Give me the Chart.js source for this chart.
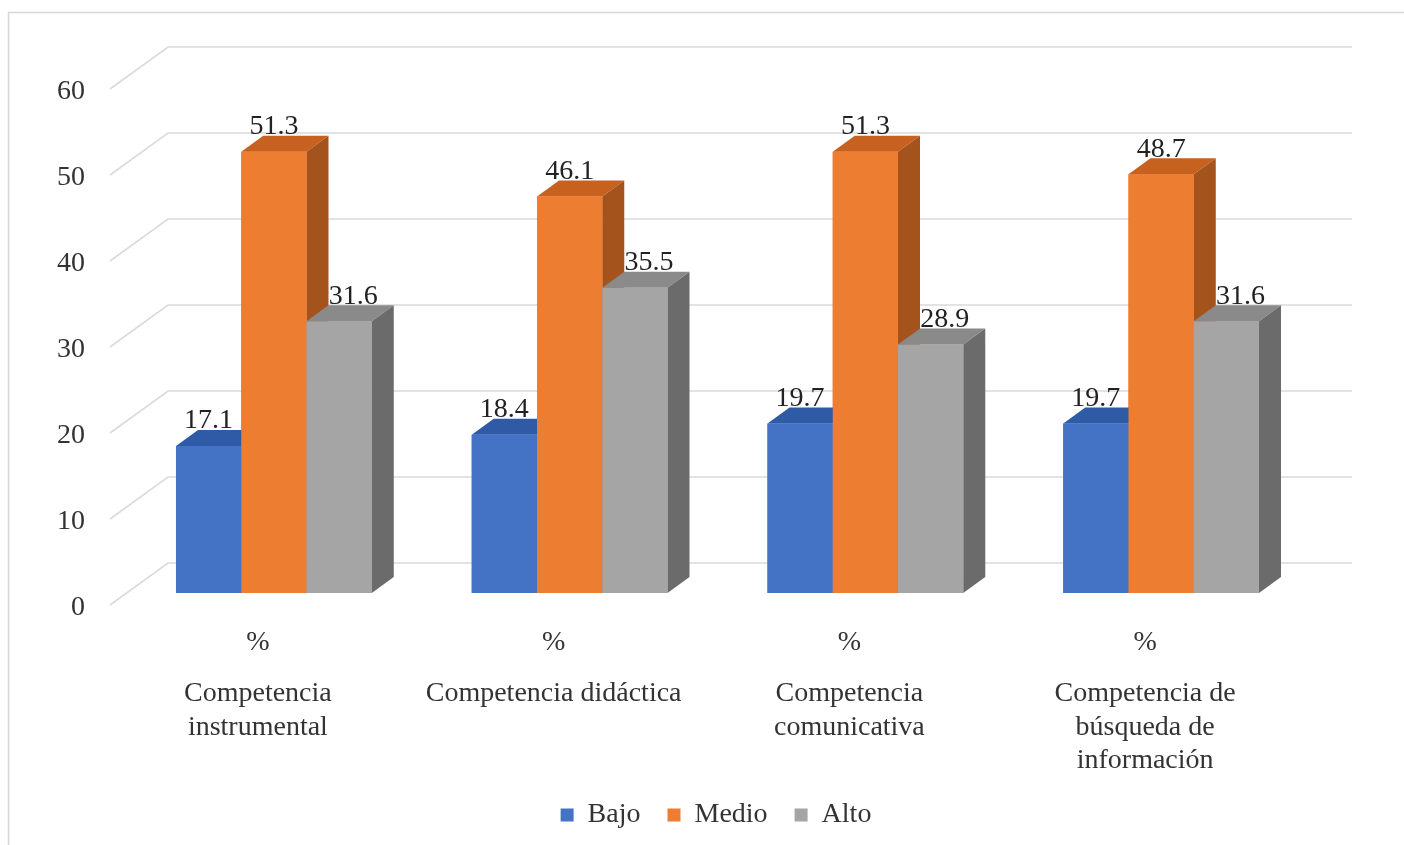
<!DOCTYPE html>
<html>
<head>
<meta charset="utf-8">
<script src="https://cdn.jsdelivr.net/npm/chart.js@4/dist/chart.umd.min.js"></script>
<style>
  html, body { margin: 0; padding: 0; background: #fff; }
  #wrap { width: 1404px; height: 845px; position: relative; }
</style>
</head>
<body>
<div id="wrap"><canvas id="competChart"></canvas></div>
<script>
const unitLabels = ['%', '%', '%', '%'];
const categoryLines = [
    ['Competencia', 'instrumental'],
    ['Competencia didáctica'],
    ['Competencia', 'comunicativa'],
    ['Competencia de', 'búsqueda de', 'información']
];
const seriesNames = ['Bajo', 'Medio', 'Alto'];
const bajoValues  = [17.1, 18.4, 19.7, 19.7];
const medioValues = [51.3, 46.1, 51.3, 48.7];
const altoValues  = [31.6, 35.5, 28.9, 31.6];

const FONT       = 'Liberation Serif';
const TEXT_COLOR = '#333333';
const GRID_COLOR = '#dadada';

// front / top / side shades for each series
const FACES = [
    { front: '#4472C4', top: '#2F5AA6', side: '#2F528F' },
    { front: '#ED7D31', top: '#C6611F', side: '#A5531C' },
    { front: '#A5A5A5', top: '#8A8A8A', side: '#6B6B6B' }
];
const DEPTH_X = 22, DEPTH_Y = -16;   // bar depth
const WALL_X = 42, WALL_Y = -30;     // back wall offset from bar fronts
const LABEL_SHIFT = [0, 0, 14];      // data label nudge per series

const threeD = {
    id: 'threeD',
    beforeDraw(chart) {
        const c = chart.ctx;
        c.save();
        c.strokeStyle = '#d6d6d6';
        c.lineWidth = 1.5;
        c.strokeRect(8.5, 12.5, 1420, 880);
        c.restore();
    },
    beforeDatasetsDraw(chart) {
        const c = chart.ctx, y = chart.scales.y, area = chart.chartArea;
        c.save();
        c.strokeStyle = GRID_COLOR;
        c.lineWidth = 1.6;
        y.ticks.forEach(t => {
            const py = y.getPixelForValue(t.value);
            c.beginPath();
            c.moveTo(area.left - 16, py + 12);
            c.lineTo(area.left + WALL_X, py + WALL_Y);
            c.lineTo(area.right + 43, py + WALL_Y);
            c.stroke();
        });
        c.restore();
    },
    afterDatasetsDraw(chart) {
        const c = chart.ctx;
        const metas = [0, 1, 2].map(i => chart.getDatasetMeta(i));
        c.save();
        for (let i = 0; i < unitLabels.length; i++) {
            metas.forEach((meta, d) => {
                const bar = meta.data[i];
                const x0 = bar.x - bar.width / 2, x1 = bar.x + bar.width / 2;
                const top = bar.y, base = bar.base;
                // top face
                c.fillStyle = FACES[d].top;
                c.beginPath();
                c.moveTo(x0, top);
                c.lineTo(x1, top);
                c.lineTo(x1 + DEPTH_X, top + DEPTH_Y);
                c.lineTo(x0 + DEPTH_X, top + DEPTH_Y);
                c.closePath();
                c.fill();
                // right face
                c.fillStyle = FACES[d].side;
                c.beginPath();
                c.moveTo(x1, top);
                c.lineTo(x1 + DEPTH_X, top + DEPTH_Y);
                c.lineTo(x1 + DEPTH_X, base + DEPTH_Y);
                c.lineTo(x1, base);
                c.closePath();
                c.fill();
                // front face
                c.fillStyle = FACES[d].front;
                c.fillRect(x0, top, x1 - x0, base - top);
            });
        }
        // value labels
        c.fillStyle = '#222222';
        c.font = `28px "${FONT}"`;
        c.textAlign = 'center';
        c.textBaseline = 'middle';
        metas.forEach((meta, d) => {
            meta.data.forEach((bar, i) => {
                const v = chart.data.datasets[d].data[i];
                c.fillText(v.toFixed(1), bar.x + LABEL_SHIFT[d], bar.y - 25);
            });
        });
        c.restore();
    }
};

new Chart(document.getElementById('competChart'), {
    type: 'bar',
    data: {
        labels: unitLabels,
        datasets: [
            { label: seriesNames[0], data: bajoValues,  backgroundColor: FACES[0].front },
            { label: seriesNames[1], data: medioValues, backgroundColor: FACES[1].front },
            { label: seriesNames[2], data: altoValues,  backgroundColor: FACES[2].front }
        ]
    },
    options: {
        responsive: true,
        maintainAspectRatio: false,
        animation: false,
        devicePixelRatio: 1,
        layout: { padding: { top: 77, left: 28, right: 0, bottom: 6 } },
        datasets: { bar: { barPercentage: 1, categoryPercentage: 0.662 } },
        plugins: {
            tooltip: { enabled: false },
            legend: {
                position: 'bottom',
                labels: {
                    color: TEXT_COLOR,
                    boxWidth: 13,
                    boxHeight: 13,
                    padding: 27,
                    font: { family: FONT, size: 28 }
                }
            }
        },
        scales: {
            x: {
                grid: { display: false },
                border: { display: false },
                ticks: {
                    color: TEXT_COLOR,
                    padding: 25,
                    labelOffset: -16,
                    font: { family: FONT, size: 28 }
                },
                afterFit: s => { s.height = 62; }
            },
            x2: {
                type: 'category',
                position: 'bottom',
                labels: categoryLines,
                offset: true,
                weight: 1,
                grid: { display: false, drawTicks: false },
                border: { display: false },
                ticks: {
                    color: TEXT_COLOR,
                    padding: 22,
                    labelOffset: -16,
                    maxRotation: 0,
                    autoSkip: false,
                    font: { family: FONT, size: 28, lineHeight: 1.2 }
                },
                afterFit: s => { s.height = 119; }
            },
            y: {
                min: 0,
                max: 60,
                grid: { display: false, drawTicks: false },
                border: { display: false },
                ticks: {
                    stepSize: 10,
                    color: TEXT_COLOR,
                    padding: 41,
                    labelOffset: 15,
                    font: { family: FONT, size: 28 }
                },
                afterFit: s => { s.width = 98; }
            },
            y2: {
                position: 'right',
                display: true,
                grid: { display: false },
                border: { display: false },
                ticks: { display: false },
                afterFit: s => { s.width = 95; }
            }
        }
    },
    plugins: [threeD]
});
</script>
</body>
</html>
